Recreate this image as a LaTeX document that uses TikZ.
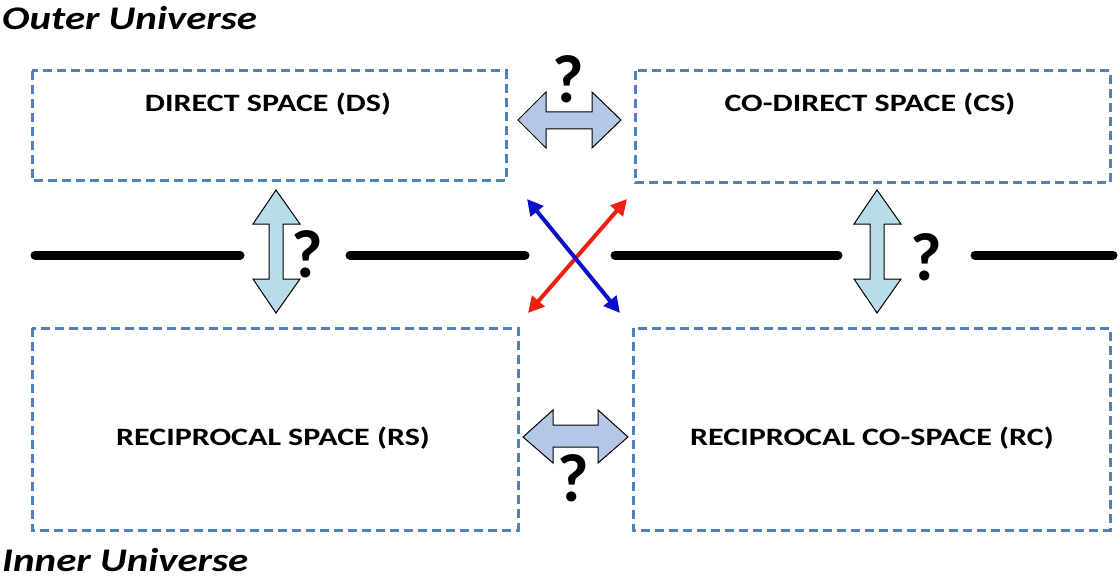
\documentclass[tikz,border=0pt]{standalone}
\usepackage{fontspec}
\setmainfont{Carlito}
\usetikzlibrary{arrows.meta}
\definecolor{boxblue}{HTML}{4F81BD}
\definecolor{vfill}{HTML}{B7DEE8}
\definecolor{hfill}{HTML}{B4C7E7}
\definecolor{xred}{HTML}{F02010}
\definecolor{xblue}{HTML}{0A10C8}
\begin{document}
\begin{tikzpicture}[x=1pt,y=-1pt,
  spacebox/.style={draw=boxblue,line width=3pt,dash pattern=on 9pt off 5pt},
  label/.style={font=\bfseries\fontsize{25}{27}\selectfont,xscale=1.28,inner sep=0pt},
  univ/.style={font=\bfseries\itshape\fontsize{33}{35}\selectfont,anchor=west,xscale=1.24,inner sep=0pt},
  qmark/.style={font=\bfseries\fontsize{68}{70}\selectfont,inner sep=0pt,text depth=0pt},
  axis/.style={line width=9pt,line cap=round},
  varrow/.style={draw=black,fill=vfill,line width=1pt},
  harrow/.style={draw=black,fill=hfill,line width=1pt},
  xarrow/.style={line width=4pt,{Triangle[length=16pt,width=16pt]}-{Triangle[length=16pt,width=16pt]}}]
\useasboundingbox (0,0) rectangle (1118,580);
% boxes
\draw[spacebox] (32,71) rectangle (506,181);
\draw[spacebox] (635,71) rectangle (1110,183);
\draw[spacebox] (32,328) rectangle (518,530);
\draw[spacebox] (633,328) rectangle (1110,530);
\node[label] (ds) at (268,104) {DIRECT SPACE (DS)};
\node[label] (cs) at (870,104) {CO-DIRECT SPACE (CS)};
\node[label] (rs) at (273,438) {RECIPROCAL SPACE (RS)};
\node[label] (rc) at (872,438) {RECIPROCAL CO-SPACE (RC)};
% universe labels
\node[univ] (outer) at (2,18) {Outer Universe};
\node[univ] (inner) at (2,560) {Inner Universe};
% horizontal axis
\draw[axis] (35,255) -- (240,255);
\draw[axis] (350,255) -- (525,255);
\draw[axis] (615,255) -- (838,255);
\draw[axis] (975,255) -- (1113,255);
% vertical arrows
\draw[varrow] (276,190) -- (300,224) -- (283,224) -- (283,279) -- (300,279) -- (276,313) -- (253,279) -- (269,279) -- (269,224) -- (253,224) -- cycle;
\draw[varrow] (877,190) -- (901,224) -- (884,224) -- (884,279) -- (901,279) -- (877,313) -- (854,279) -- (870,279) -- (870,224) -- (854,224) -- cycle;
\node[qmark] (q1) at (307,254) {?};
\node[qmark] (q2) at (926,257) {?};
% horizontal arrows
\draw[harrow] (518,120) -- (546,92) -- (546,112) -- (592,112) -- (592,92) -- (621,120) -- (592,148) -- (592,129) -- (546,129) -- (546,148) -- cycle;
\draw[harrow] (523,437) -- (553,410) -- (553,425) -- (598,425) -- (598,410) -- (628,437) -- (598,463) -- (598,447) -- (553,447) -- (553,463) -- cycle;
\node[qmark] (q3) at (568,79) {?};
\node[qmark] (q4) at (573,478) {?};
% cross
\coordinate (b1) at (527,199);
\coordinate (b2) at (620,313);
\coordinate (r1) at (528,313);
\coordinate (r2) at (627,199);
\draw[xarrow,draw=xred,fill=xred] (r1) -- (r2);
\draw[xarrow,draw=xblue,fill=xblue] (b1) -- (b2);
\end{tikzpicture}
\end{document}
